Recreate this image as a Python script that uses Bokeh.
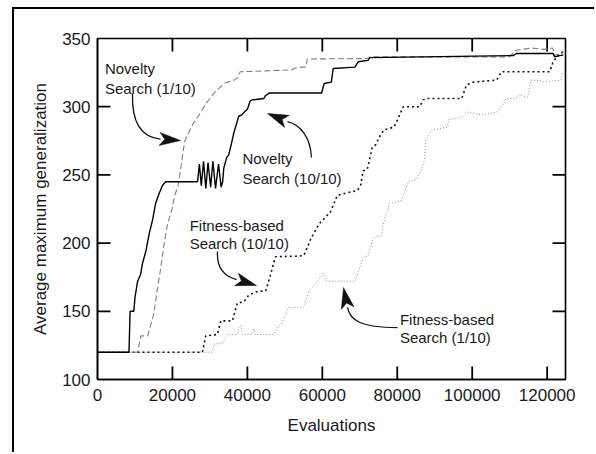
import math
from bokeh.plotting import figure
from bokeh.models import Range1d, FixedTicker
from bokeh.embed import file_html
from bokeh.resources import INLINE
from bokeh.core.properties import value

# ---------------- data ----------------
x_ticks = [0, 20000, 40000, 60000, 80000, 100000, 120000]
y_ticks = [100, 150, 200, 250, 300, 350]

# Novelty Search (10/10) - solid black
nov10_x = [0, 8400, 8700, 9700, 10000, 10700, 11500, 12000, 12900, 13800,
           14700, 15500, 16400, 17300, 18200, 26700, 27200, 27700, 28300, 28900,
           29500, 30200, 30800, 31500, 32300, 33000, 33400, 33700, 34500, 35000,
           35500, 36400, 37700, 38500, 39500, 40000, 40700, 41300, 44400, 44800,
           45800, 59800, 60500, 62400, 62900, 68700, 69600, 72200, 72700, 110900,
           111800, 121600, 122000, 124300]
nov10_y = [120, 120, 150, 150, 160, 172, 177, 185, 194, 207,
           217, 229, 236, 242, 245, 245, 258, 242, 260, 240,
           259, 241, 260, 240, 258, 241, 245, 255, 263, 264.5,
           270, 281, 293, 294, 297, 298, 304, 305, 306, 308,
           310, 310, 317, 318, 328, 329, 333, 334, 336, 337.5,
           339, 339, 336.5, 338]

# Novelty Search (1/10) - dashed gray
nov1_x = [0, 10700, 11600, 13400, 14000, 15000, 15900, 16900, 17800, 18700,
          20000, 20500, 21600, 22000, 22900, 23300, 24700, 25400, 26700, 28900,
          30000, 31100, 33700, 36400, 37300, 38100, 52000, 52400, 54000, 55600,
          56000, 72000, 72700, 110000, 111500, 113000, 116000, 119000, 121500, 122000,
          123500, 124300]
nov1_y = [120, 120, 132, 132, 138, 148, 165, 182, 200, 214,
          226, 234, 243, 251, 268, 275, 283, 287, 292.5, 302,
          306, 310, 317, 319.5, 321, 325.6, 327, 328, 329, 329,
          335, 335.3, 336.5, 336.5, 341, 342, 343, 342, 343, 337.5,
          339, 341]

# Fitness-based Search (10/10) - dotted black
fit10_x = [0, 28000, 28900, 32000, 32900, 36000, 37300, 39100, 40400, 42700,
           44900, 46200, 47500, 53800, 55100, 56900, 59100, 62200, 64000, 66700,
           69300, 70200, 70900, 72000, 73300, 74200, 75500, 76400, 79100, 80000,
           81600, 86000, 86900, 87800, 97200, 98500, 100300, 106500, 107800, 120700,
           121600, 123400, 124300]
fit10_y = [120, 120, 132, 133, 143, 143, 156, 157, 162, 164.5,
           165, 177, 190, 190.5, 191, 203, 214, 223, 235, 237,
           238.5, 242, 253, 254, 270, 272, 279, 283, 285, 290,
           300, 300, 305, 306, 306, 316, 318, 319.5, 325.6, 325.6,
           333, 339, 340]

# Fitness-based Search (1/10) - dotted gray
fit1_x = [0, 30700, 31100, 33300, 34600, 37300, 37800, 38300, 38700, 41300,
          41700, 42100, 47000, 48300, 49100, 49600, 50900, 55000, 56500, 58500,
          60300, 61200, 68700, 69600, 70900, 72200, 73600, 75800, 76300, 77900,
          81000, 83000, 85000, 86500, 87300, 87600, 89300, 93400, 93700, 97400,
          98700, 102500, 106600, 107900, 109000, 111500, 112700, 114800, 115700, 117900,
          119200, 123600, 124300]
fit1_y = [120, 120, 126, 126.5, 133, 133, 138, 140, 133, 133,
          137, 133, 133, 139, 140.5, 144, 153, 153, 165, 171,
          178, 172, 172, 179, 189.5, 190.5, 204, 205.5, 214, 229,
          231, 245, 246.5, 254, 261, 275, 283, 285, 290.5, 292.5,
          296, 294, 296, 300, 306, 306, 308.5, 307, 319.4, 319.4,
          318.2, 319.4, 325.6]

# annotation texts (two lines each): x, baseline y of line 1, baseline y of line 2
ann_line1 = ["Novelty", "Novelty", "Fitness-based", "Fitness-based"]
ann_line2 = ["Search (1/10)", "Search (10/10)", "Search (10/10)", "Search (1/10)"]
ann_x = [1970, 38670, 24600, 80700]
ann_y1 = [328.2, 262.0, 213.0, 143.7]
ann_y2 = [313.6, 247.3, 199.9, 130.6]

# curved arrows: bezier tail (start, cp1, cp2, end) and head tip
arr_x0 = [9341, 57112, 32026, 80064]
arr_y0 = [309.7, 262.7, 193.8, 138.1]
arr_cx0 = [9074, 56845, 31759, 70200]
arr_cy0 = [286.2, 277.4, 181.4, 138.1]
arr_cx1 = [12276, 54176, 33894, 67300]
arr_cy1 = [277.4, 286.9, 175.5, 143.5]
arr_x1 = [16813, 50707, 37096, 66720]
arr_y1 = [276.3, 289.1, 173.3, 152.8]
arr_tx = [22151, 45370, 42434, 65652]
arr_ty = [275.2, 295.0, 168.9, 167.4]

# ---------------- figure ----------------
# page-level panel rules (top and left) drawn with a CSS border
OFF_L, OFF_T, BORDER = 12, 7, 2
PAGE_W, PAGE_H = 596, 454
W = PAGE_W - OFF_L - BORDER
H = PAGE_H - OFF_T - BORDER
# frame edges on the page: left 97, top 38, right 565, bottom 379
ML = 97 - OFF_L - BORDER
MT = 38 - OFF_T - BORDER
MR = (OFF_L + BORDER + W) - 565
MB = (OFF_T + BORDER + H) - 379
X_MAX = 124900

p = figure(width=W, height=H, output_backend="svg", toolbar_location=None,
           x_range=Range1d(0, X_MAX), y_range=Range1d(100, 350),
           min_border_left=ML, min_border_right=MR, min_border_top=MT, min_border_bottom=MB,
           background_fill_color="white", border_fill_color="white")
p.styles = {"margin-left": f"{OFF_L}px", "margin-top": f"{OFF_T}px",
            "border-left": f"{BORDER}px solid black", "border-top": f"{BORDER}px solid black"}
p.grid.visible = False
p.outline_line_color = "black"
p.outline_line_width = 1.6

FONT = "Liberation Sans"
TXT = "#1a1a1a"

for ax, ticks in ((p.xaxis[0], x_ticks), (p.yaxis[0], y_ticks)):
    ax.ticker = FixedTicker(ticks=ticks)
    ax.major_tick_in = 0
    ax.major_tick_out = 0
    ax.minor_tick_line_color = None
    ax.axis_line_width = 1.6
    ax.major_label_text_font = FONT
    ax.major_label_text_font_size = "17px"
    ax.major_label_text_color = TXT
    ax.axis_label_text_font = FONT
    ax.axis_label_text_font_size = "17px"
    ax.axis_label_text_font_style = "normal"
    ax.axis_label_text_color = TXT

p.xaxis[0].axis_label = "Evaluations"
p.yaxis[0].axis_label = "Average maximum generalization"
p.xaxis[0].major_label_standoff = 9
p.xaxis[0].axis_label_standoff = 12
p.yaxis[0].major_label_standoff = 7
p.yaxis[0].axis_label_standoff = 9
p.xaxis[0].formatter.use_scientific = False

fw = W - ML - MR
fh = H - MT - MB
sx = fw / X_MAX
sy = fh / 250.0

# inward ticks on all four sides
TICK = 13.0
tx0, ty0, tx1, ty1 = [], [], [], []
for t in x_ticks[1:]:
    tx0 += [float(t), float(t)]
    tx1 += [float(t), float(t)]
    ty0 += [100.0, 350.0]
    ty1 += [100.0 + TICK / sy, 350.0 - TICK / sy]
for t in y_ticks[1:-1]:
    tx0 += [0.0, float(X_MAX)]
    tx1 += [TICK / sx, X_MAX - TICK / sx]
    ty0 += [float(t), float(t)]
    ty1 += [float(t), float(t)]
p.segment(x0=tx0, y0=ty0, x1=tx1, y1=ty1, line_color="black", line_width=1.8)

# ---------------- series ----------------
p.line(fit1_x, fit1_y, line_color="#8a8a8a", line_width=1.0, line_dash="1 2")
p.line(fit10_x, fit10_y, line_color="#111111", line_width=1.6, line_dash="2 3")
p.line(nov1_x, nov1_y, line_color="#808080", line_width=1.1, line_dash="6 3")
p.line(nov10_x, nov10_y, line_color="#000000", line_width=1.4)

# ---------------- annotations ----------------
p.text(ann_x, ann_y1, text=ann_line1, text_font=value(FONT), text_font_size="15px",
       text_color=TXT, text_baseline="alphabetic", text_align="left")
p.text(ann_x, ann_y2, text=ann_line2, text_font=value(FONT), text_font_size="15px",
       text_color=TXT, text_baseline="alphabetic", text_align="left")

p.bezier(x0=arr_x0, y0=arr_y0, x1=arr_x1, y1=arr_y1,
         cx0=arr_cx0, cy0=arr_cy0, cx1=arr_cx1, cy1=arr_cy1,
         line_color="#111111", line_width=1.3)

# arrow heads: triangles computed in pixel space, mapped back to data
HEAD_LEN, HEAD_W = 21.0, 13.0
hx, hy = [], []
for bx, by, tx, ty in zip(arr_x1, arr_y1, arr_tx, arr_ty):
    dx = (tx - bx) * sx
    dy = (ty - by) * sy
    L = math.hypot(dx, dy)
    ux, uy = dx / L, dy / L
    bcx = tx * sx - ux * HEAD_LEN
    bcy = ty * sy - uy * HEAD_LEN
    nx, ny = -uy, ux
    px_pts = [(tx * sx, ty * sy),
              (bcx + nx * HEAD_W / 2, bcy + ny * HEAD_W / 2),
              (tx * sx - ux * HEAD_LEN * 0.75, ty * sy - uy * HEAD_LEN * 0.75),
              (bcx - nx * HEAD_W / 2, bcy - ny * HEAD_W / 2)]
    hx.append([q[0] / sx for q in px_pts])
    hy.append([q[1] / sy for q in px_pts])
p.patches(hx, hy, fill_color="#111111", line_color="#111111", line_width=0.5)

open("out.html", "w").write(file_html(p, INLINE))
